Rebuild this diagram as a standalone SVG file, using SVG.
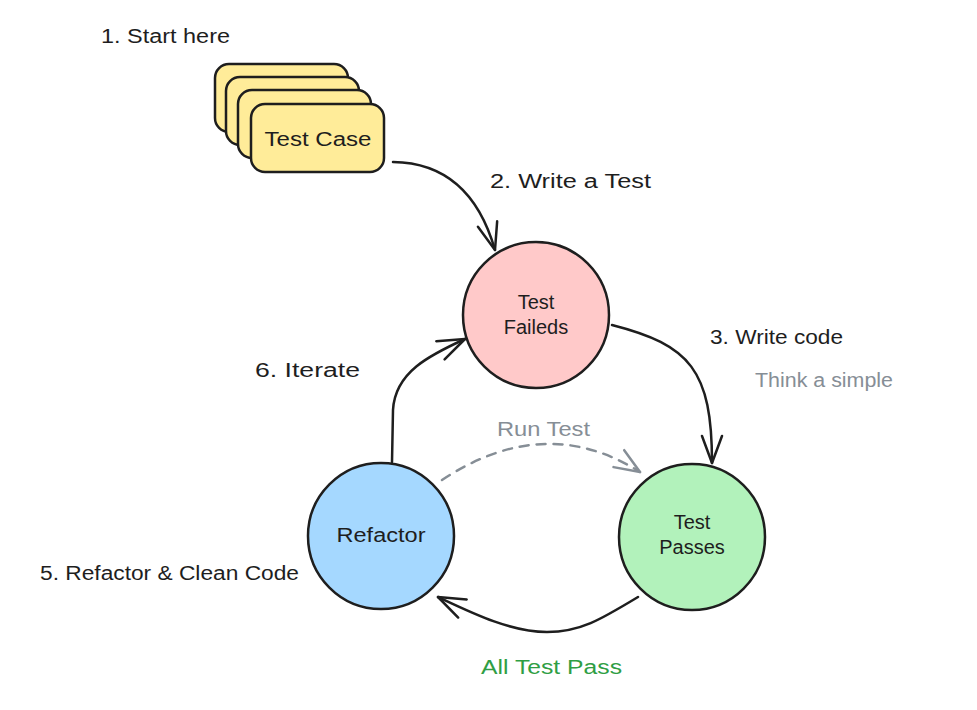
<svg xmlns="http://www.w3.org/2000/svg" width="977" height="710" viewBox="0 0 977 710">
<style>
.t{font-family:"Liberation Sans",Arial,sans-serif;font-size:20px;fill:#1e1e1e}
.g{fill:#868e96}
.gr{fill:#2f9e44}
.c{text-anchor:middle}
.card{fill:#ffec99;stroke:#1e1e1e;stroke-width:2.5}
.node{stroke:#1e1e1e;stroke-width:2.5}
.e{fill:none;stroke:#1e1e1e;stroke-width:2.5;stroke-linecap:round}
.d{fill:none;stroke:#868e96;stroke-width:2.5;stroke-dasharray:9 8;stroke-linecap:round}
</style>
<defs>
<marker id="ah" markerUnits="userSpaceOnUse" markerWidth="40" markerHeight="30" viewBox="-30 -15 40 30" refX="0" refY="0" orient="auto">
<path d="M-27,-10 L0,0 L-27,10" fill="none" stroke="#1e1e1e" stroke-width="2.5" stroke-linecap="round" stroke-linejoin="round"/>
</marker>
<marker id="ahg" markerUnits="userSpaceOnUse" markerWidth="40" markerHeight="30" viewBox="-30 -15 40 30" refX="0" refY="0" orient="auto">
<path d="M-25,-10 L0,0 L-25,10" fill="none" stroke="#868e96" stroke-width="2.5" stroke-linecap="round" stroke-linejoin="round"/>
</marker>
</defs>
<rect width="977" height="710" fill="#ffffff"/>

<g id="connectors">
<path class="e" d="M393,162 Q470,163 495,250" marker-end="url(#ah)"/>
<path class="e" d="M612,325 C690,345 712,370 712,463" marker-end="url(#ah)"/>
<path class="e" d="M392,462 L393,410 C395,372 430,355 465,339" marker-end="url(#ah)"/>
<path class="d" d="M442,480 Q545,412 640,472" marker-end="url(#ahg)"/>
<path class="e" d="M638,597 C600,620 580,632 547,632 C510,632 470,612 438,597" marker-end="url(#ah)"/>
</g>

<g id="test-case">
<rect class="card" x="215" y="64" width="133" height="68" rx="14"/>
<rect class="card" x="226" y="77" width="133" height="68" rx="14"/>
<rect class="card" x="238" y="90" width="133" height="68" rx="14"/>
<rect class="card" x="251" y="104" width="133" height="68" rx="14"/>
<text class="t c" x="318" y="146" textLength="107" lengthAdjust="spacingAndGlyphs">Test Case</text>
</g>

<g id="test-failed">
<circle class="node" cx="536" cy="315" r="73" fill="#ffc9c9"/>
<text class="t c" x="536" y="309">Test</text>
<text class="t c" x="536" y="334">Faileds</text>
</g>

<g id="test-passes">
<circle class="node" cx="692" cy="537" r="73" fill="#b2f2bb"/>
<text class="t c" x="692" y="529">Test</text>
<text class="t c" x="692" y="554">Passes</text>
</g>

<g id="refactor">
<circle class="node" cx="381" cy="536" r="73" fill="#a5d8ff"/>
<text class="t c" x="381" y="542" textLength="89" lengthAdjust="spacingAndGlyphs">Refactor</text>
</g>

<g id="labels">
<text class="t" x="101" y="43" textLength="129" lengthAdjust="spacingAndGlyphs">1. Start here</text>
<text class="t" x="490" y="188" textLength="161" lengthAdjust="spacingAndGlyphs">2. Write a Test</text>
<text class="t" x="710" y="344" textLength="133" lengthAdjust="spacingAndGlyphs">3. Write code</text>
<text class="t g" x="755" y="387" textLength="138" lengthAdjust="spacingAndGlyphs">Think a simple</text>
<text class="t" x="255" y="377" textLength="105" lengthAdjust="spacingAndGlyphs">6. Iterate</text>
<text class="t g" x="497" y="436" textLength="93" lengthAdjust="spacingAndGlyphs">Run Test</text>
<text class="t" x="40" y="580" textLength="259" lengthAdjust="spacingAndGlyphs">5. Refactor &amp; Clean Code</text>
<text class="t gr" x="481" y="674" textLength="141" lengthAdjust="spacingAndGlyphs">All Test Pass</text>
</g>
</svg>
